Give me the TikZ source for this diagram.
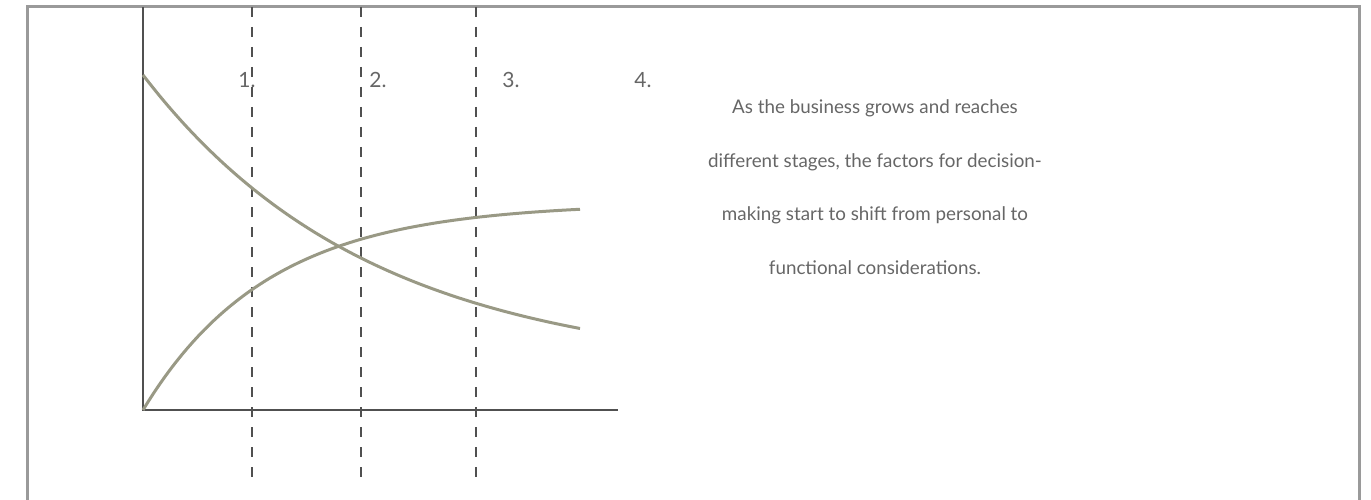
\documentclass[tikz,border=0pt]{standalone}
\usepackage{fontspec}
\setmainfont{Lato}
\usepackage{tikz}
\usetikzlibrary{positioning, calc}

\definecolor{framegray}{HTML}{9A9A9A}
\definecolor{axisgray}{HTML}{505050}
\definecolor{curvegray}{HTML}{999985}
\definecolor{textgray}{HTML}{666666}

\tikzset{
  stageline/.style={axisgray, line width=1.2pt, dash pattern=on 10pt off 10pt},
  stagelabel/.style={textgray, font=\fontsize{21}{25}\selectfont},
  trend/.style={curvegray, line width=3pt}
}

\begin{document}
\begin{tikzpicture}[x=1pt, y=-1pt]
					\useasboundingbox (0,0) rectangle (1371,500);
					\draw[framegray, line width=3pt] (27,500) -- (27,7) -- (1359,7) -- (1359,500);
					\coordinate (origin) at (143,410);
					\coordinate (ytop) at (143,7);
					\coordinate (xend) at (618,410);
					\draw[axisgray, line width=1.5pt] (ytop) -- (origin) -- (xend);
					\foreach \name/\xpos in {a/252, b/361, c/476} {
						\coordinate (\name top) at (\xpos,7);
						\coordinate (\name bot) at (\xpos,487);
						\draw[stageline] (\name top) -- (\name bot);
					}
					\node[stagelabel] (one) at (247,80) {1.};
					\node[stagelabel] (two) at (378,80) {2.};
					\node[stagelabel] (three) at (511,80) {3.};
					\node[stagelabel] (four) at (643,80) {4.};
					\draw[trend] plot[domain=0:437, samples=80] ({143+\x}, {372-297*exp(-0.00439*\x)});
					\draw[trend] plot[domain=0:437, samples=80] ({143+\x}, {203+207*exp(-0.008*\x)});
					\node[textgray, align=center, font=\fontsize{18.8}{53.5}\selectfont] (note) at (875,187)
						{As the business grows and reaches\\ different stages, the factors for decision-\\ making start to shift from personal to\\ functional considerations.};
				\end{tikzpicture}
\end{document}
